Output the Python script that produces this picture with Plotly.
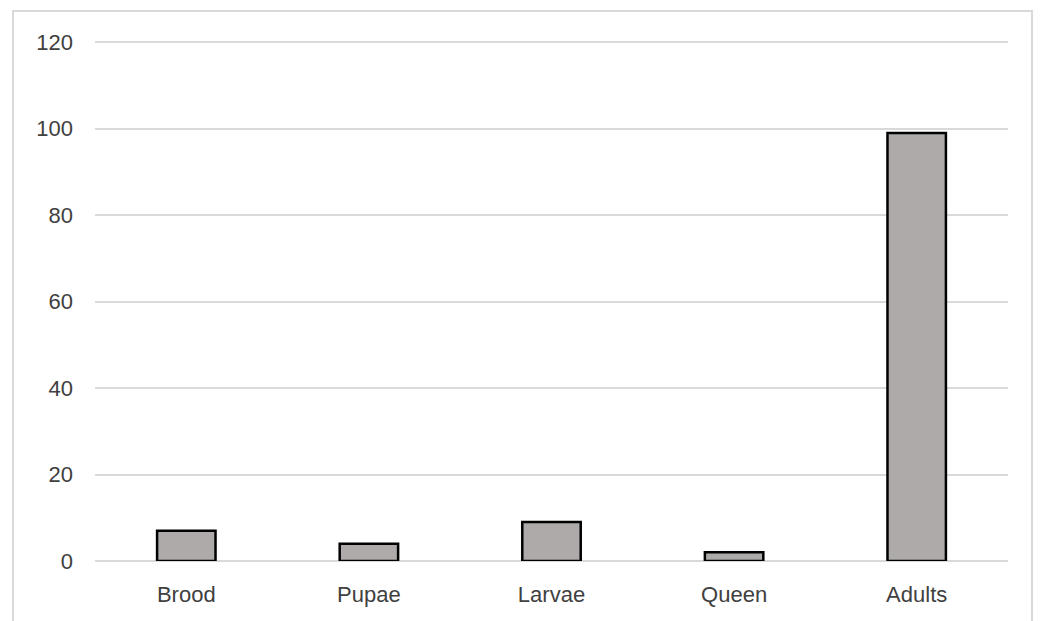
import plotly.graph_objects as go

categories = ["Brood", "Pupae", "Larvae", "Queen", "Adults"]
values = [7, 4, 9, 2, 99]
y_ticks = [0, 20, 40, 60, 80, 100, 120]

# page body has an 8px margin; compensate so the plot lands where the reference is
OFF = 8
W, H = 1044 - OFF, 621 - OFF
YMAX = 121
pw = 913
ph = round(519 * YMAX / 120)
L = 95 - OFF
T = (561 - ph) - OFF
R, B = W - L - pw, H - T - ph

fig = go.Figure(go.Bar(
    x=categories, y=values,
    width=0.32,
    marker=dict(color="#AEAAAA", line=dict(color="#000000", width=2.5)),
))

def px(x):
    return (x - OFF - L) / pw

def py(y):
    return (T + ph - (y - OFF)) / ph

fig.update_layout(
    width=W, height=H,
    margin=dict(l=L, r=R, t=T, b=B),
    paper_bgcolor="white", plot_bgcolor="white",
    showlegend=False,
    font=dict(family="Liberation Sans, Arial, sans-serif", size=22, color="#404040"),
    xaxis=dict(showgrid=False, showline=False, zeroline=False, ticks="",
               ticklabelstandoff=18),
    yaxis=dict(range=[0, YMAX], tickvals=y_ticks, showgrid=True,
               gridcolor="#d9d9d9", gridwidth=1.5, zeroline=True,
               zerolinecolor="#d9d9d9", zerolinewidth=1.5, showline=False,
               ticks="", ticklabelstandoff=21),
    shapes=[dict(type="rect", xref="paper", yref="paper",
                 x0=px(13), x1=px(1032), y0=py(11), y1=py(640),
                 line=dict(color="#d9d9d9", width=2), fillcolor="rgba(0,0,0,0)",
                 layer="below")],
)

fig.write_html("out.html")
